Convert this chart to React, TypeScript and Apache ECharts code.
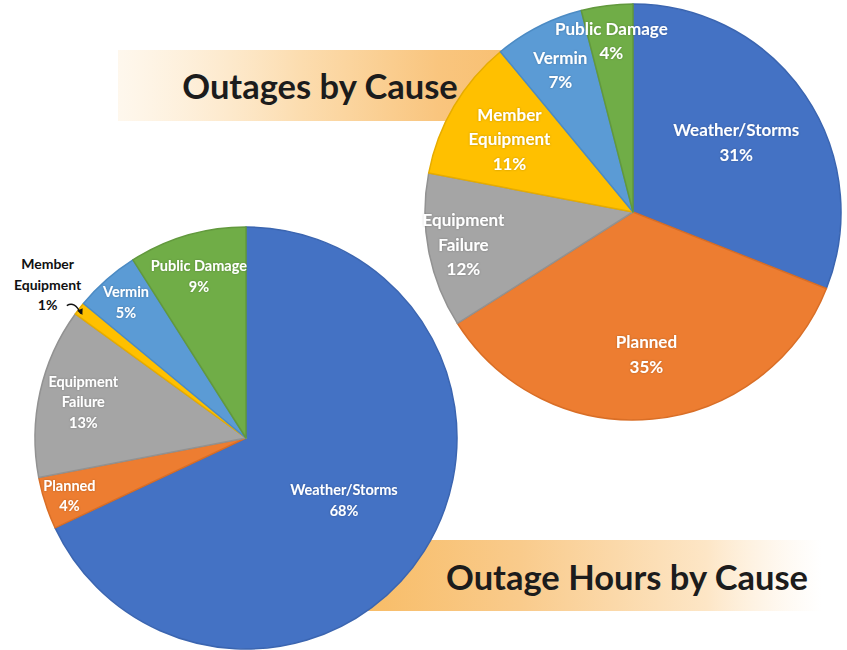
import React, { useEffect, useRef } from "react";
import * as echarts from "echarts";

// ---------- data ----------
const categories = [
  "Weather/Storms",
  "Planned",
  "Equipment Failure",
  "Member Equipment",
  "Vermin",
  "Public Damage",
];
const labelLines = [
  ["Weather/Storms"],
  ["Planned"],
  ["Equipment", "Failure"],
  ["Member", "Equipment"],
  ["Vermin"],
  ["Public Damage"],
];
const outagesPct = [31, 35, 12, 11, 7, 4];
const hoursPct = [68, 4, 13, 1, 5, 9];
const titles = ["Outages by Cause", "Outage Hours by Cause"];

// ---------- style ----------
const colors = ["#4472C4", "#ED7D31", "#A5A5A5", "#FFC000", "#5B9BD5", "#70AD47"];
const edgeColors = ["#3B65B0", "#D96E26", "#929292", "#E6AC00", "#4C8BC4", "#62993D"];
const topLabelRadius = [0.6, 0.685, 0.83, 0.69, 0.77, 0.83];
const bottomLabelRadius = [0.55, 0.88, 0.79, 1.19, 0.86, 0.8];
const bottomOutside = [false, false, false, true, false, false];

const TOP = { cx: 633, cy: 212, r: 208 };
const BOT = { cx: 246, cy: 438, r: 211 };
const FONT = "Lato, 'Open Sans', sans-serif";

function midAngles(vals: number[]) {
  const total = vals.reduce((a, b) => a + b, 0);
  let acc = 0;
  return vals.map((v) => {
    const a = ((acc + v / 2) / total) * Math.PI * 2;
    acc += v;
    return a;
  });
}

function polar(g: { cx: number; cy: number; r: number }, a: number, f: number) {
  return [g.cx + f * g.r * Math.sin(a), g.cy - f * g.r * Math.cos(a)];
}

function pieSeries(vals: number[], g: { cx: number; cy: number; r: number }) {
  return {
    type: "pie",
    center: [g.cx, g.cy],
    radius: [0, g.r],
    startAngle: 90,
    clockwise: true,
    silent: true,
    label: { show: false },
    labelLine: { show: false },
    z: 5,
    data: vals.map((v, i) => ({
      name: categories[i],
      value: v,
      itemStyle: { color: colors[i], borderColor: edgeColors[i], borderWidth: 1.5 },
    })),
  };
}

function labelGraphics(
  vals: number[],
  g: { cx: number; cy: number; r: number },
  radii: number[],
  size: number,
  lh: number,
  outside?: boolean[]
) {
  const angles = midAngles(vals);
  const els: any[] = [];
  vals.forEach((v, i) => {
    const [x, y] = polar(g, angles[i], radii[i]);
    const out = outside ? outside[i] : false;
    els.push({
      type: "text",
      x,
      y,
      z: 100,
      silent: true,
      style: {
        text: [...labelLines[i], v + "%"].join("\n"),
        align: "center",
        verticalAlign: "middle",
        fontFamily: FONT,
        fontWeight: "bold",
        fontSize: out ? size - 0.5 : size,
        lineHeight: lh,
        fill: out ? "#111111" : "#FFFFFF",
        textShadowColor: out ? "transparent" : "rgba(0,0,0,0.25)",
        textShadowBlur: out ? 0 : 2,
      },
    });
    if (out) {
      const [tx, ty] = polar(g, angles[i], 0.985);
      const sx = tx - 15;
      const sy = ty - 5;
      const cpx = tx - 7;
      const cpy = ty - 10;
      els.push({
        type: "bezierCurve",
        z: 100,
        silent: true,
        shape: { x1: sx, y1: sy, x2: tx - 1, y2: ty + 3, cpx1: cpx, cpy1: cpy },
        style: { stroke: "#111", lineWidth: 1.3, fill: null },
      });
      const dx = tx - 1 - cpx;
      const dy = ty + 3 - cpy;
      const len = Math.hypot(dx, dy);
      const ux = dx / len;
      const uy = dy / len;
      const hx = tx + ux * 1.5;
      const hy = ty + 3 + uy * 1.5;
      els.push({
        type: "polygon",
        z: 100,
        silent: true,
        shape: {
          points: [
            [hx, hy],
            [hx - ux * 6 - uy * 3, hy - uy * 6 + ux * 3],
            [hx - ux * 6 + uy * 3, hy - uy * 6 - ux * 3],
          ],
        },
        style: { fill: "#111" },
      });
    }
  });
  return els;
}

export default function App() {
  const ref = useRef<HTMLDivElement>(null);
  useEffect(() => {
    if (!ref.current) return;
    const chart = echarts.init(ref.current, null, { renderer: "svg" });
    chart.setOption({
      animation: false,
      backgroundColor: "#FFFFFF",
      series: [pieSeries(outagesPct, TOP), pieSeries(hoursPct, BOT)],
      graphic: [
        {
          type: "rect",
          z: 0,
          silent: true,
          shape: { x: 118, y: 50, width: 400, height: 71 },
          style: {
            fill: new echarts.graphic.LinearGradient(0, 0, 1, 0, [
              { offset: 0, color: "rgba(253,236,210,0.4)" },
              { offset: 0.45, color: "#FCDDB0" },
              { offset: 0.8, color: "#F9C57E" },
              { offset: 1, color: "#F8BF70" },
            ]),
          },
        },
        {
          type: "rect",
          z: 0,
          silent: true,
          shape: { x: 360, y: 540, width: 462, height: 71 },
          style: {
            fill: new echarts.graphic.LinearGradient(0, 0, 1, 0, [
              { offset: 0, color: "#F8BC66" },
              { offset: 0.35, color: "#F9CB8C" },
              { offset: 0.75, color: "#FDE6C6" },
              { offset: 1, color: "rgba(255,255,255,0.6)" },
            ]),
          },
        },
        {
          type: "text",
          x: 320,
          y: 85,
          z: 50,
          silent: true,
          style: {
            text: titles[0],
            align: "center",
            verticalAlign: "middle",
            fontFamily: FONT,
            fontWeight: "bold",
            fontSize: 34.5,
            fill: "#1C1C1C",
          },
        },
        {
          type: "text",
          x: 627,
          y: 576,
          z: 50,
          silent: true,
          style: {
            text: titles[1],
            align: "center",
            verticalAlign: "middle",
            fontFamily: FONT,
            fontWeight: "bold",
            fontSize: 34.5,
            fill: "#1C1C1C",
          },
        },
        ...labelGraphics(outagesPct, TOP, topLabelRadius, 17, 24.5),
        ...labelGraphics(hoursPct, BOT, bottomLabelRadius, 14.5, 20.5, bottomOutside),
      ],
    });
    return () => chart.dispose();
  }, []);
  return (
    <div
      ref={ref}
      style={{ position: "fixed", left: 0, top: 0, width: 847, height: 650, background: "#fff" }}
    />
  );
}
